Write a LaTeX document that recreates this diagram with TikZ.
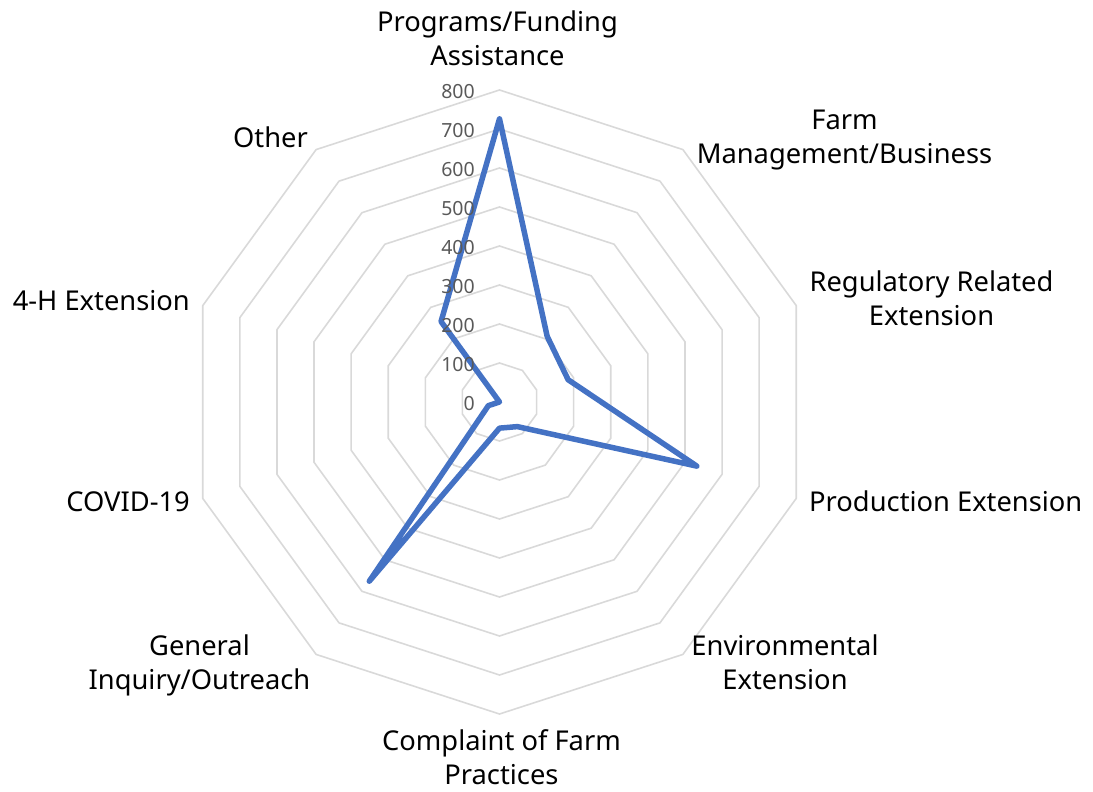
\documentclass[tikz,border=0pt]{standalone}
\usepackage{fontspec}
\setmainfont{Noto Sans}
\definecolor{gridc}{HTML}{D9D9D9}
\definecolor{serc}{HTML}{4472C4}
\definecolor{tickc}{HTML}{595959}
\begin{document}
\begin{tikzpicture}[x=1pt,y=-1pt,
  grid/.style={draw=gridc,line width=1.6pt,line join=miter},
  series/.style={draw=serc,line width=5.5pt,line join=round,line cap=round},
  ticklab/.style={font=\fontsize{19.5}{22}\selectfont,text=tickc,anchor=east,inner sep=0pt},
  catlab/.style={font=\fontsize{27.3}{34}\selectfont,align=center,inner sep=0pt}]
\useasboundingbox (0,0) rectangle (1093,792);
\begin{scope}[shift={(499.5,402)}]
  \coordinate (O) at (0,0);
  \foreach \k in {1,...,8}{
    \draw[grid] (-90:39*\k) \foreach \i in {1,...,9}{ -- (-90+36*\i:39*\k)} -- cycle;
  }
  \foreach \v [count=\i] in {726,208,185,532,78,67,568,30,0,255}{
    \coordinate (p\i) at (-126+36*\i:0.39*\v);
  }
  \draw[series] (p1) -- (p2) -- (p3) -- (p4) -- (p5) -- (p6) -- (p7) -- (p8) -- (p9) -- (p10) -- cycle;
\end{scope}
\foreach \k in {0,...,8}{
  \pgfmathtruncatemacro{\tv}{100*\k}
  \node[ticklab] (t\k) at (475,403.5-39*\k) {\tv};
}
\node[catlab] (l1) at (497.5,38.5) {Programs/Funding\\Assistance};
\node[catlab] (l2) at (844.5,140) {Farm\\Management/Business};
\node[catlab] (l3) at (931.5,298.5) {Regulatory Related\\Extension};
\node[catlab,anchor=west] (l4) at (809,501.5) {Production Extension};
\node[catlab] (l5) at (785,662) {Environmental\\Extension};
\node[catlab] (l6) at (501.5,757) {Complaint of Farm\\Practices};
\node[catlab] (l7) at (199.5,665) {General\\Inquiry/Outreach};
\node[catlab,anchor=east] (l8) at (190,501.5) {COVID-19};
\node[catlab,anchor=east] (l9) at (190,301) {4-H Extension};
\node[catlab,anchor=east] (l10) at (308,137) {Other};
\end{tikzpicture}
\end{document}
